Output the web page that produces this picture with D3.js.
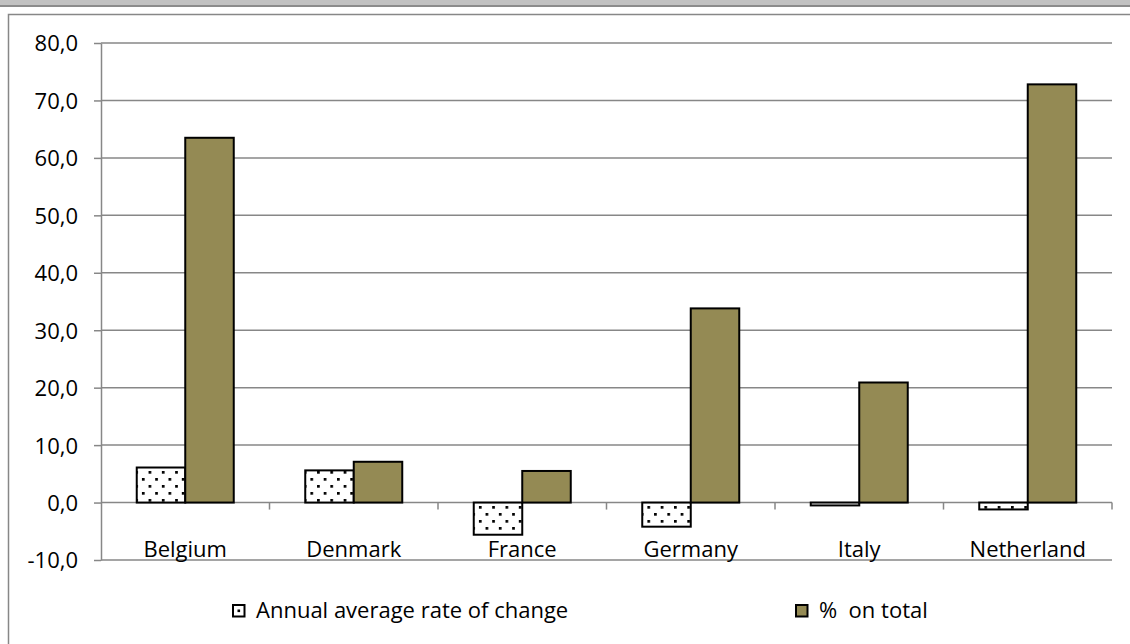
<!DOCTYPE html>
<html>
<head>
<meta charset="utf-8">
<script src="https://cdn.jsdelivr.net/npm/d3@7"></script>
<style>
  html, body { margin: 0; padding: 0; background: #fff; }
  svg { display: block; }
  text { font-family: "Open Sans", Lato, sans-serif; fill: #000; white-space: pre; }
</style>
</head>
<body>
<svg id="chart" width="1130" height="644"></svg>
<script>
// Countries on the category axis
const categories = ["Belgium", "Denmark", "France", "Germany", "Italy", "Netherland"];
// Series names as shown in the legend
const seriesNames = ["Annual average rate of change", "%  on total"];
// Series values, one per country
const annualRate = [6.1, 5.6, -5.6, -4.2, -0.5, -1.2];
const shareOfTotal = [63.5, 7.1, 5.5, 33.8, 20.9, 72.8];
// Value axis ticks
const yTicks = [-10, 0, 10, 20, 30, 40, 50, 60, 70, 80];

const svg = d3.select("#chart");
const W = 1130, H = 644;
const plot = { left: 101, right: 1112, top: 43, bottom: 560 };
const gridColor = "#878787";
const olive = "#948a54";
const fontSize = 22;

// Window frame strip and chart border
svg.append("rect").attr("x", 0).attr("y", 0).attr("width", W).attr("height", 5).attr("fill", "#c2c2c2");
svg.append("rect").attr("x", 0).attr("y", 5).attr("width", W).attr("height", 2).attr("fill", "#8c8c8c");
svg.append("rect").attr("x", 8.5).attr("y", 14.5).attr("width", W + 20).attr("height", H + 20)
  .attr("fill", "#fff").attr("stroke", gridColor).attr("stroke-width", 1.5);

// Dotted fill pattern
const defs = svg.append("defs");
const pat = defs.append("pattern").attr("id", "dots").attr("patternUnits", "userSpaceOnUse")
  .attr("width", 13.3).attr("height", 14).attr("x", 1).attr("y", 2);
pat.append("rect").attr("width", 13.3).attr("height", 14).attr("fill", "#fff");
pat.append("rect").attr("x", 0).attr("y", 0).attr("width", 2.7).attr("height", 2.7).attr("fill", "#000");
pat.append("rect").attr("x", 6.65).attr("y", 7).attr("width", 2.7).attr("height", 2.7).attr("fill", "#000");

const y = d3.scaleLinear().domain([-10, 80]).range([plot.bottom, plot.top]);
const x0 = d3.scaleBand().domain(categories).range([plot.left, plot.right]).padding(0);
const x1 = d3.scaleBand().domain(seriesNames).range([0, x0.bandwidth()])
  .paddingInner(0).paddingOuter(0.737);

// Value axis line, tick marks and labels (decimal comma, plain hyphen)
const yAxis = d3.axisLeft(y).tickValues(yTicks).tickSize(7).tickSizeOuter(0)
  .tickFormat(d => d.toFixed(1).replace(".", ","));
const gy = svg.append("g").attr("transform", `translate(${plot.left},0)`).call(yAxis);
gy.select(".domain").attr("stroke", gridColor).attr("stroke-width", 1.5);
gy.selectAll(".tick line").attr("stroke", gridColor).attr("stroke-width", 1.5);
gy.selectAll(".tick text").attr("x", -23).attr("dy", "0.36em")
  .style("font-size", fontSize + "px").style("font-family", "\"Open Sans\", sans-serif").attr("fill", "#000");

// Horizontal gridlines
svg.append("g").selectAll("line").data(yTicks).join("line")
  .attr("x1", plot.left).attr("x2", plot.right)
  .attr("y1", d => y(d)).attr("y2", d => y(d))
  .attr("stroke", gridColor).attr("stroke-width", 1.5);

// Category tick marks below the zero line
const boundaries = categories.map(c => x0(c)).concat([plot.right]);
svg.append("g").selectAll("line").data(boundaries.slice(1)).join("line")
  .attr("x1", d => d).attr("x2", d => d)
  .attr("y1", y(0)).attr("y2", y(0) + 7)
  .attr("stroke", gridColor).attr("stroke-width", 1.5);

// Bars
const rows = categories.map((c, i) => ({ c, values: [annualRate[i], shareOfTotal[i]] }));
const fills = ["url(#dots)", olive];
const groups = svg.append("g").selectAll("g").data(rows).join("g")
  .attr("transform", d => `translate(${x0(d.c)},0)`);
groups.selectAll("rect").data(d => d.values.map((v, k) => ({ v, k }))).join("rect")
  .attr("x", d => x1(seriesNames[d.k]))
  .attr("width", x1.bandwidth())
  .attr("y", d => y(Math.max(0, d.v)))
  .attr("height", d => Math.abs(y(d.v) - y(0)))
  .attr("fill", d => fills[d.k])
  .attr("stroke", "#000").attr("stroke-width", 2);

// Category labels
svg.append("g").selectAll("text").data(categories).join("text")
  .attr("x", d => x0(d) + x0.bandwidth() / 2)
  .attr("y", 557)
  .attr("text-anchor", "middle")
  .style("font-size", fontSize + "px")
  .text(d => d);

// Legend
const legend = [
  { name: seriesNames[0], x: 233, fill: "#fff", dot: true },
  { name: seriesNames[1], x: 796, fill: olive, dot: false }
];
const lg = svg.append("g").selectAll("g").data(legend).join("g")
  .attr("transform", d => `translate(${d.x},605)`);
lg.append("rect").attr("width", 11.5).attr("height", 11.5)
  .attr("fill", d => d.fill).attr("stroke", "#000").attr("stroke-width", 2);
lg.filter(d => d.dot).append("rect").attr("x", 4.5).attr("y", 4.5).attr("width", 2.6).attr("height", 2.6).attr("fill", "#000");
lg.append("text").attr("x", 23).attr("y", 13)
  .style("font-size", fontSize + "px")
  .text(d => d.name);
</script>
</body>
</html>
